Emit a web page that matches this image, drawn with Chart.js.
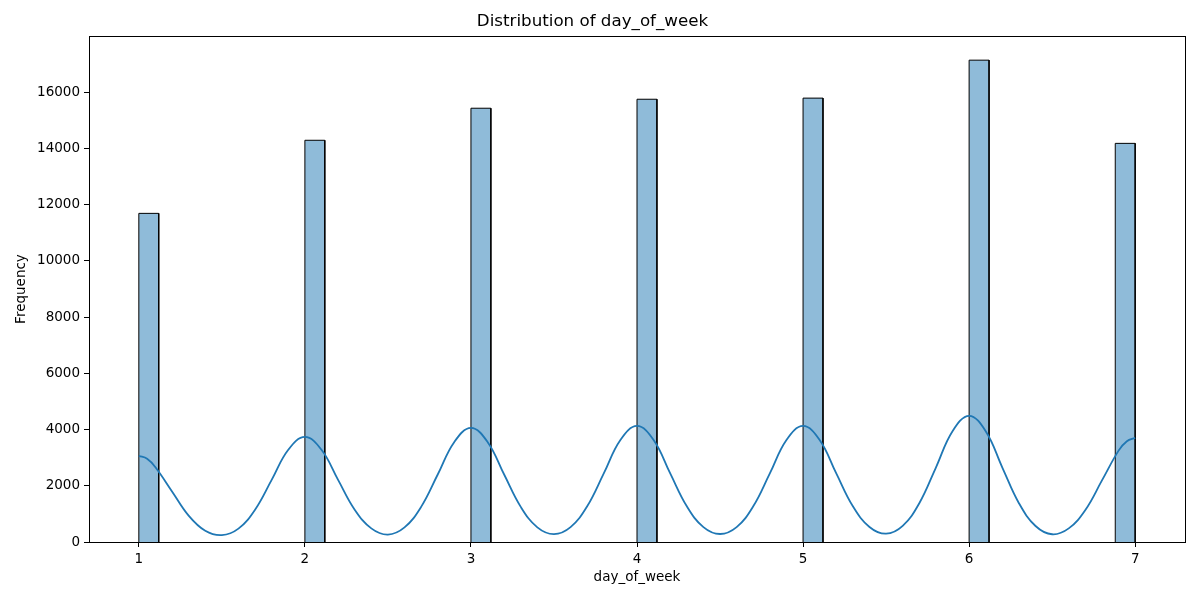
<!DOCTYPE html>
<html>
<head>
<meta charset="utf-8">
<title>Distribution of day_of_week</title>
<script src="https://cdn.jsdelivr.net/npm/chart.js@4.4.1/dist/chart.umd.min.js"></script>
<style>
  html, body { margin: 0; padding: 0; background: #fff; }
  canvas { display: block; }
</style>
</head>
<body>
<canvas id="histChart" width="1200" height="600"></canvas>
<script>
// --- data ---
const binStarts = [1, 2, 3, 4, 5, 6, 6.88];
const binWidth = 0.12;
const binCounts = [11690, 14290, 15430, 15750, 15790, 17140, 14180];

const kdeX = [
  1.0, 1.05, 1.1, 1.2, 1.3, 1.4, 1.5, 1.6, 1.7, 1.8, 1.9,
  2.0, 2.1, 2.2, 2.3, 2.4, 2.5, 2.6, 2.7, 2.8, 2.9,
  3.0, 3.1, 3.2, 3.3, 3.4, 3.5, 3.6, 3.7, 3.8, 3.9,
  4.0, 4.1, 4.2, 4.3, 4.4, 4.5, 4.6, 4.7, 4.8, 4.9,
  5.0, 5.1, 5.2, 5.3, 5.4, 5.5, 5.6, 5.7, 5.8, 5.9,
  6.0, 6.1, 6.2, 6.3, 6.4, 6.5, 6.6, 6.7, 6.8, 6.9, 6.95,
  7.0
];
const kdeY = [
  3065, 2960, 2660, 1800, 940, 400, 245, 475, 1150, 2210, 3280,
  3740, 3280, 2210, 1150, 485, 265, 520, 1250, 2400, 3560,
  4060, 3560, 2400, 1250, 520, 280, 530, 1270, 2440, 3630,
  4130, 3630, 2440, 1270, 530, 285, 530, 1270, 2440, 3630,
  4130, 3630, 2440, 1270, 535, 295, 575, 1380, 2650, 3940,
  4490, 3940, 2650, 1380, 570, 275, 485, 1140, 2190, 3250, 3585,
  3705
];

const xTicks = [1, 2, 3, 4, 5, 6, 7];
const yTicks = [0, 2000, 4000, 6000, 8000, 10000, 12000, 14000, 16000];

// --- datasets ---
const FONT = "'DejaVu Sans', sans-serif";

// each bin becomes a closed rectangle outline in data units
const barDatasets = binStarts.map((x0, i) => ({
  type: "line",
  data: [
    { x: x0, y: 0 },
    { x: x0, y: binCounts[i] },
    { x: x0 + binWidth, y: binCounts[i] },
    { x: x0 + binWidth, y: 0 }
  ],
  borderColor: "#000000",
  borderWidth: 1,
  backgroundColor: "rgba(31, 119, 180, 0.5)",
  fill: "origin",
  tension: 0,
  pointRadius: 0,
  order: 2
}));

const kdeDataset = {
  type: "line",
  data: kdeX.map((x, i) => ({ x: x, y: kdeY[i] })),
  borderColor: "#1f77b4",
  borderWidth: 1.8,
  fill: false,
  pointRadius: 0,
  tension: 0.4,
  order: 1
};

// frame round the plot area, like the matplotlib spines
const framePlugin = {
  id: "frame",
  afterDatasetsDraw(chart) {
    const a = chart.chartArea;
    const ctx = chart.ctx;
    ctx.save();
    ctx.strokeStyle = "#000";
    ctx.lineWidth = 1;
    ctx.strokeRect(Math.round(a.left) + 0.5, Math.round(a.top) + 0.5,
      Math.round(a.right - a.left), Math.round(a.bottom - a.top));
    ctx.restore();
  }
};

new Chart(document.getElementById("histChart").getContext("2d"), {
  data: { datasets: barDatasets.concat([kdeDataset]) },
  options: {
    responsive: false,
    animation: false,
    devicePixelRatio: 1,
    layout: { padding: { left: 0, right: 15, top: 0, bottom: 0 } },
    plugins: {
      legend: { display: false },
      tooltip: { enabled: false },
      title: {
        display: true,
        text: "Distribution of day_of_week",
        color: "#000",
        font: { family: FONT, size: 16.7, weight: "normal" },
        padding: { top: 12, bottom: 4 }
      }
    },
    scales: {
      x: {
        type: "linear",
        min: 0.7,
        max: 7.3,
        afterBuildTicks(scale) {
          scale.ticks = xTicks.map(v => ({ value: v }));
        },
        afterFit(scale) { scale.height = 58; },
        grid: {
          display: true,
          drawOnChartArea: false,
          drawTicks: true,
          tickLength: 5,
          color: "#000"
        },
        border: { display: false },
        ticks: {
          color: "#000",
          font: { family: FONT, size: 13.5 },
          padding: 4,
          maxRotation: 0
        },
        title: {
          display: true,
          text: "day_of_week",
          color: "#000",
          font: { family: FONT, size: 13.5 },
          padding: { top: 14, bottom: 14 }
        }
      },
      y: {
        type: "linear",
        min: 0,
        max: 17998,
        afterBuildTicks(scale) {
          scale.ticks = yTicks.map(v => ({ value: v }));
        },
        afterFit(scale) { scale.width = 89; },
        grid: {
          display: true,
          drawOnChartArea: false,
          drawTicks: true,
          tickLength: 5,
          color: "#000"
        },
        border: { display: false },
        ticks: {
          color: "#000",
          font: { family: FONT, size: 13.5 },
          padding: 4,
          callback: v => String(v)
        },
        title: {
          display: true,
          text: "Frequency",
          color: "#000",
          font: { family: FONT, size: 13.5 },
          padding: { top: 13, bottom: 13 }
        }
      }
    }
  },
  plugins: [framePlugin]
});
</script>
</body>
</html>
